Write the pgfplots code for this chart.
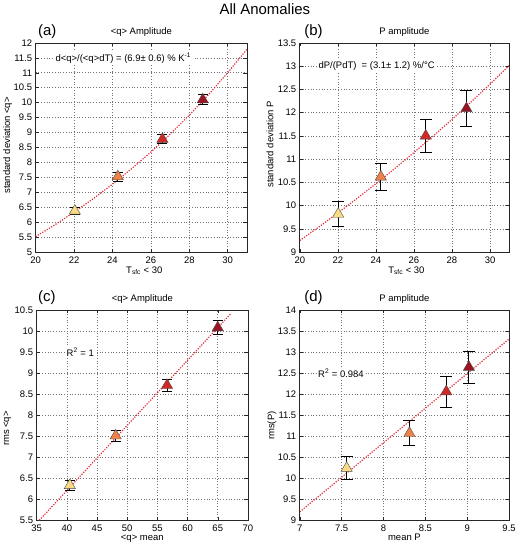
\documentclass[border=0pt]{standalone}
\usepackage{fontspec}
\setmainfont{Liberation Sans}
\usepackage{pgfplots}
\usepackage{pgfplotstable}
\pgfplotsset{compat=1.18}
\definecolor{cA}{RGB}{250,218,130}
\definecolor{cB}{RGB}{238,130,72}
\definecolor{cC}{RGB}{208,42,38}
\definecolor{cD}{RGB}{155,20,35}
\definecolor{fitred}{RGB}{225,45,60}

\pgfplotstableread{
x y e c
22.04 6.38 0.12 a
24.28 7.53 0.15 b
26.60 8.78 0.15 c
28.70 10.10 0.17 d
}\tabA
\pgfplotstableread{
x y e c
22.02 9.82 0.27 a
24.26 10.62 0.29 b
26.62 11.50 0.35 c
28.76 12.09 0.38 d
}\tabB
\pgfplotstableread{
x y e c
40.5 6.33 0.11 a
48.1 7.51 0.13 b
56.6 8.71 0.15 c
65.0 10.08 0.17 d
}\tabC
\pgfplotstableread{
x y e c
7.56 10.24 0.27 a
8.31 11.07 0.30 b
8.75 12.06 0.37 c
9.02 12.64 0.38 d
}\tabD

\pgfplotsset{
  mat/.style={
    scale only axis,
    anchor=south west,
    axis line style={black!85, line width=0.6pt},
    tick align=inside,
    major tick length=3.5pt,
    every tick/.style={black!85, line width=0.5pt},
    grid=major,
    major grid style={black!55, line width=0.55pt, dash pattern=on 0.55pt off 2.2pt},
    scaled ticks=false,
    /pgf/number format/assume math mode=true,
    tick label style={font=\fontsize{9.5}{11}\selectfont},
    xticklabel style={yshift=-1.5pt},
  },
  fit/.style={color=fitred, line width=1.2pt, dash pattern=on 1.2pt off 1.4pt},
  err/.style={only marks, mark=none, black,
    error bars/.cd, y dir=both, y explicit,
    error bar style={line width=0.8pt, black},
    error mark options={rotate=90, line width=0.8pt, mark size=#1, black}},
  tri/.style={only marks, scatter, scatter src=explicit symbolic, mark size=6.5pt,
    scatter/classes={
      a={mark=triangle*, fill=cA, draw=black!70, line width=0.4pt},
      b={mark=triangle*, fill=cB, draw=black!70, line width=0.4pt},
      c={mark=triangle*, fill=cC, draw=black!70, line width=0.4pt},
      d={mark=triangle*, fill=cD, draw=black!70, line width=0.4pt}}},
}
\tikzset{annot/.style={anchor=west, font=\fontsize{9.5}{11}\selectfont, fill=white, inner sep=1.5pt}}
\newcommand{\tf}{\fontsize{9.5}{11}\selectfont}
\newcommand{\bigf}{\fontsize{15}{18}\selectfont}

\begin{document}
\begin{tikzpicture}[x=1pt,y=1pt]
\path (0,0) rectangle (517,546);
\node[font=\bigf, anchor=base] at (264,531) {All Anomalies};

% (a)
\begin{axis}[mat, at={(34pt,293pt)}, width=212pt, height=210pt,
  xmin=20, xmax=31, ymin=5, ymax=12,
  xtick={20,22,24,26,28,30},
  ytick={5,5.5,6,6.5,7,7.5,8,8.5,9,9.5,10,10.5,11,11.5,12}]
\addplot[fit] coordinates {(20,5.52)(21,5.914)(22,6.336)(23,6.789)(24,7.273)(25,7.793)(26,8.349)(27,8.945)(28,9.584)(29,10.268)(30,11.001)(31,11.787)};
\addplot[err=5pt] table[x=x,y=y,y error=e] {\tabA};
\addplot[tri] table[x=x,y=y,meta=c] {\tabA};
\node[annot] at (axis cs:20.95,11.5) {d<q>/(<q>dT) = (6.9± 0.6) \% K\textsuperscript{-1}};
\end{axis}

% (b)
\begin{axis}[mat, at={(299pt,293pt)}, width=210pt, height=210pt,
  xmin=20, xmax=31, ymin=9, ymax=13.5,
  xtick={20,22,24,26,28,30},
  ytick={9,9.5,10,10.5,11,11.5,12,12.5,13,13.5}]
\addplot[fit] coordinates {(20,9.25)(21,9.541)(22,9.842)(23,10.152)(24,10.472)(25,10.801)(26,11.142)(27,11.492)(28,11.855)(29,12.228)(30,12.613)(31,13.010)};
\addplot[err=6pt] table[x=x,y=y,y error=e] {\tabB};
\addplot[tri] table[x=x,y=y,meta=c] {\tabB};
\node[annot] at (axis cs:20.9,13) {dP/(PdT)\ \ = (3.1± 1.2) \%/°C};
\end{axis}

% (c)
\begin{axis}[mat, at={(35pt,24pt)}, width=212pt, height=211pt,
  xmin=35, xmax=70, ymin=5.5, ymax=10.5,
  xtick={35,40,45,50,55,60,65,70},
  ytick={5.5,6,6.5,7,7.5,8,8.5,9,9.5,10,10.5}]
\addplot[fit] coordinates {(35.44,5.5)(67.2,10.42)};
\addplot[err=5pt] table[x=x,y=y,y error=e] {\tabC};
\addplot[tri] table[x=x,y=y,meta=c] {\tabC};
\node[annot] at (axis cs:39.7,9.5) {R\textsuperscript{2} = 1};
\end{axis}

% (d)
\begin{axis}[mat, at={(299pt,24pt)}, width=210pt, height=211pt,
  xmin=7, xmax=9.5, ymin=9, ymax=14,
  xtick={7,7.5,8,8.5,9,9.5},
  ytick={9,9.5,10,10.5,11,11.5,12,12.5,13,13.5,14}]
\addplot[fit] coordinates {(7,9.2)(9.5,13.31)};
\addplot[err=6pt] table[x=x,y=y,y error=e] {\tabD};
\addplot[tri] table[x=x,y=y,meta=c] {\tabD};
\node[annot] at (axis cs:7.2,12.5) {R\textsuperscript{2} = 0.984};
\end{axis}

% panel letters
\node[font=\bigf, anchor=base west] at (33,510) {(a)};
\node[font=\bigf, anchor=base west] at (300,510) {(b)};
\node[font=\bigf, anchor=base west] at (33,243) {(c)};
\node[font=\bigf, anchor=base west] at (300,243) {(d)};
% titles
\node[font=\tf, anchor=base] at (140,511) {<q> Amplitude};
\node[font=\tf, anchor=base] at (404,511) {P amplitude};
\node[font=\tf, anchor=base] at (141,243) {<q> Amplitude};
\node[font=\tf, anchor=base] at (404,243) {P amplitude};
% x labels
\node[font=\tf, anchor=base] at (143,272) {T\textsubscript{sfc} < 30};
\node[font=\tf, anchor=base] at (406,272) {T\textsubscript{sfc} < 30};
\node[font=\tf, anchor=base] at (141,3.5) {<q> mean};
\node[font=\tf, anchor=base] at (404,3.5) {mean P};
% y labels
\node[font=\tf, rotate=90] at (6,400) {standard deviation <q>};
\node[font=\tf, rotate=90] at (269,401) {standard deviation P};
\node[font=\tf, rotate=90] at (5.5,116) {rms <q>};
\node[font=\tf, rotate=90] at (271,119) {rms(P)};
\end{tikzpicture}
\end{document}
